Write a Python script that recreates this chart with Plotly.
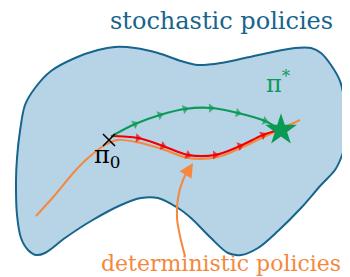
import plotly.graph_objects as go

# Region outline (stochastic policies), in picture coordinates
blob_x = [9, 12, 17, 27, 43, 67, 90, 107, 127, 150, 173, 190, 213, 237, 260, 287, 303, 313, 323, 332, 337, 338, 337, 333, 327, 313, 293, 270, 250, 233, 220, 203, 183, 170, 150, 133, 113, 83, 57, 37, 28, 20, 13, 9, 8, 9]
blob_y = [150, 123, 97, 80, 63, 50, 42, 39, 40, 45, 53, 57, 55, 50, 45, 40, 40, 45, 57, 73, 97, 117, 137, 150, 162, 177, 200, 223, 240, 247, 245, 230, 210, 200, 190, 190, 197, 213, 230, 245, 247, 242, 230, 207, 173, 150]

# Deterministic policies curve
det_x = [28, 47, 67, 80, 97, 110, 133, 157, 180, 210, 237, 260, 292]
det_y = [208, 187, 163, 150, 137, 132, 135, 142, 150, 149, 138, 127, 112]

# Red path (deterministic)
red_x = [103, 130, 155, 180, 207, 232, 255, 271]
red_y = [128, 130, 138, 147, 147, 138, 127, 122]

# Green path (stochastic)
green_x = [104, 127, 152, 177, 203, 230, 257, 272]
green_y = [128, 116, 107, 101, 100, 105, 113, 122]

# Pointer arrow
ptr_x = [177, 172, 169, 170, 175, 181]
ptr_y = [248, 228, 210, 190, 172, 161]

BLUE = "#17658c"
FILL = "#b7d3e6"
ORANGE = "#f5883d"
GREEN = "#0b9a55"
RED = "#f00000"

fig = go.Figure()
fig.add_trace(go.Scatter(x=blob_x, y=blob_y, mode="lines", fill="toself",
                         fillcolor=FILL, line=dict(color=BLUE, width=2, shape="spline", smoothing=0.9),
                         hoverinfo="skip"))
fig.add_trace(go.Scatter(x=det_x, y=det_y, mode="lines",
                         line=dict(color=ORANGE, width=2, shape="spline"), hoverinfo="skip"))

def arrow_sizes(n, s):
    return [0] + [s] * (n - 2) + [0]

fig.add_trace(go.Scatter(x=red_x, y=red_y, mode="lines+markers",
                         line=dict(color=RED, width=2.2, shape="spline"),
                         marker=dict(symbol="triangle-up", size=arrow_sizes(len(red_x), 8),
                                     color=RED, angleref="previous", line=dict(width=0)),
                         hoverinfo="skip"))
fig.add_trace(go.Scatter(x=green_x, y=green_y, mode="lines+markers",
                         line=dict(color=GREEN, width=2.2, shape="spline"),
                         marker=dict(symbol="triangle-up", size=arrow_sizes(len(green_x), 8),
                                     color=GREEN, angleref="previous", line=dict(width=0)),
                         hoverinfo="skip"))
fig.add_trace(go.Scatter(x=[273], y=[122], mode="markers",
                         marker=dict(symbol="star", size=24, color=GREEN, line=dict(width=0)),
                         hoverinfo="skip"))
fig.add_trace(go.Scatter(x=[101], y=[132], mode="markers",
                         marker=dict(symbol="x-thin", size=12, line=dict(color="black", width=1.5)),
                         hoverinfo="skip"))
fig.add_trace(go.Scatter(x=ptr_x, y=ptr_y, mode="lines",
                         line=dict(color=ORANGE, width=2, shape="spline"), hoverinfo="skip"))

fig.add_annotation(x=185, y=155, ax=180, ay=163, xref="x", yref="y", axref="x", ayref="y",
                   text="", showarrow=True, arrowhead=2, arrowsize=1.4, arrowwidth=2, arrowcolor=ORANGE)

serif = "DejaVu Serif"
fig.add_annotation(x=213, y=13, text="stochastic policies", showarrow=False,
                   font=dict(family=serif, size=24, color=BLUE))
fig.add_annotation(x=213, y=255, text="deterministic policies", showarrow=False,
                   font=dict(family=serif, size=22, color=ORANGE))
fig.add_annotation(x=270, y=74, text="π<sup>*</sup>", showarrow=False,
                   font=dict(family=serif, size=24, color=GREEN))
fig.add_annotation(x=99, y=148, text="π<sub>0</sub>", showarrow=False,
                   font=dict(family=serif, size=24, color="black"))

fig.update_layout(width=350, height=277, margin=dict(l=0, r=0, t=0, b=0),
                  paper_bgcolor="white", plot_bgcolor="white", showlegend=False,
                  xaxis=dict(range=[0, 350], visible=False),
                  yaxis=dict(range=[277, 0], visible=False))
fig.write_html("out.html")
